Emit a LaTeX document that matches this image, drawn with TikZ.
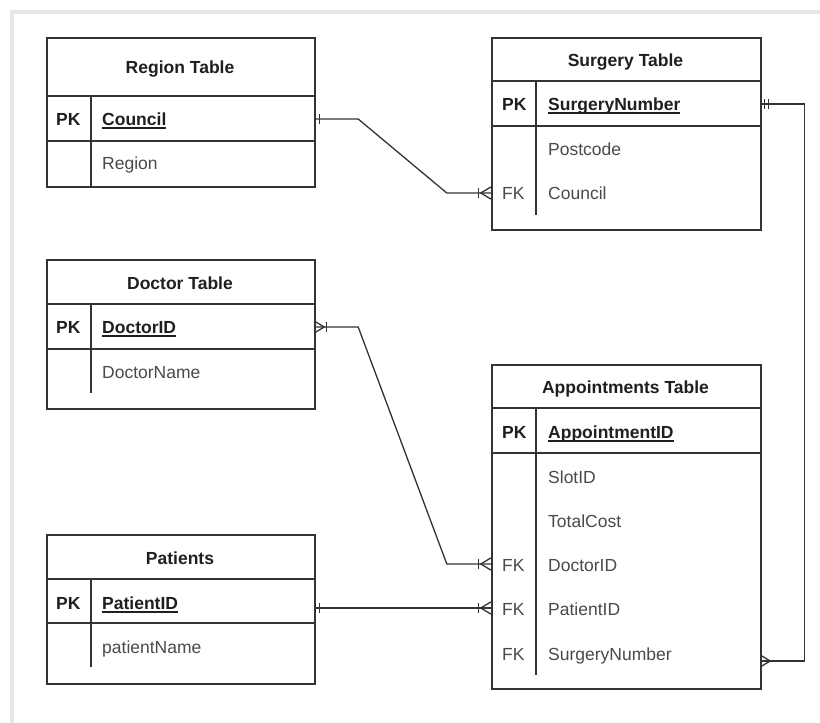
\documentclass[tikz,border=0pt]{standalone}
\usepackage{fontspec}
\setmainfont{Liberation Sans}
\usetikzlibrary{calc}
\definecolor{ln}{HTML}{333333}
\definecolor{tx}{HTML}{1F1F1F}
\definecolor{fld}{HTML}{4A4A4A}
\definecolor{band}{HTML}{E6E6E6}
\newsavebox\ulbox
\newcommand{\pkname}[1]{\sbox\ulbox{\bfseries #1}\rlap{\color{tx}\rule[-3.5pt]{\wd\ulbox}{1.4pt}}\usebox\ulbox}
\tikzset{
  tbl/.style={draw=ln, line width=1.6pt, inner sep=0pt, anchor=north west},
  sep/.style={draw=ln, line width=1.6pt},
  dv/.style={draw=ln, line width=1.6pt},
  conn/.style={draw=ln, line width=1.3pt},
  txt/.style={inner sep=0pt, text height=12.6pt, text depth=0pt, font=\fontsize{17.5}{20}\selectfont},
  title/.style={txt, text=tx, font=\fontsize{17.5}{20}\selectfont\bfseries},
  pk/.style={txt, text=tx, anchor=west, font=\fontsize{17.5}{20}\selectfont\bfseries},
  fk/.style={txt, text=fld, anchor=west},
  pkf/.style={txt, text=tx, anchor=west},
  field/.style={txt, text=fld, anchor=west},
  rowL/.style={inner sep=0pt, minimum width=268pt, minimum height=44pt},
  rowR/.style={inner sep=0pt, minimum width=269pt, minimum height=44pt},
  pics/onebar/.style={code={\draw[conn] (5,-5) -- (5,5);}},
  pics/twobar/.style={code={\draw[conn] (4,-5) -- (4,5); \draw[conn] (8,-5) -- (8,5);}},
  pics/manyone/.style={code={\draw[conn] (0,-6) -- (-10,0) -- (0,6); \draw[conn] (-12,-5) -- (-12,5);}},
  pics/many/.style={code={\draw[conn] (0,-6) -- (-10,0) -- (0,6);}},
}
\begin{document}
\begin{tikzpicture}[x=1pt,y=-1pt]
\useasboundingbox (0,0) rectangle (820,723);
\fill[white] (0,0) rectangle (820,723);
\fill[band] (10,10) rectangle (820,14);
\fill[band] (10,10) rectangle (14,723);

% ---------- Region Table ----------
\node[tbl, minimum width=268pt, minimum height=149pt] (region) at (46,37) {};
\node[title] (regiont) at (180,67) {Region Table};
\draw[sep] (46,96) -- (314,96);
\draw[sep] (46,141) -- (314,141);
\draw[dv] (91,96) -- (91,186);
\node[pk] (regionpk) at (56,119) {PK};
\node[pkf] (regionc) at (102,119) {\pkname{Council}};
\node[field] (regionr) at (102,163) {Region};
\node[rowL] (rgcouncil) at (180,119) {};

% ---------- Surgery Table ----------
\node[tbl, minimum width=269pt, minimum height=192pt] (surgery) at (491,37) {};
\node[title] (surgeryt) at (625.5,60) {Surgery Table};
\draw[sep] (491,81) -- (760,81);
\draw[sep] (491,126) -- (760,126);
\draw[dv] (536,81) -- (536,215);
\node[pk] (surgerypk) at (502,104) {PK};
\node[pkf] (surgerysn) at (548,104) {\pkname{SurgeryNumber}};
\node[field] (surgerypc) at (548,149) {Postcode};
\node[fk] (surgeryfk) at (502,193) {FK};
\node[field] (surgeryc) at (548,193) {Council};
\node[rowR] (sgnumber) at (625.5,104) {};
\node[rowR] (sgcouncil) at (625.5,193) {};

% ---------- Doctor Table ----------
\node[tbl, minimum width=268pt, minimum height=149pt] (doctor) at (46,259) {};
\node[title] (doctort) at (180,283) {Doctor Table};
\draw[sep] (46,304) -- (314,304);
\draw[sep] (46,349) -- (314,349);
\draw[dv] (91,304) -- (91,393);
\node[pk] (doctorpk) at (56,327) {PK};
\node[pkf] (doctorid) at (102,327) {\pkname{DoctorID}};
\node[field] (doctorn) at (102,372) {DoctorName};
\node[rowL] (drid) at (180,327) {};

% ---------- Appointments Table ----------
\node[tbl, minimum width=269pt, minimum height=324pt] (appt) at (491,364) {};
\node[title] (apptt) at (625.5,387) {Appointments Table};
\draw[sep] (491,408) -- (760,408);
\draw[sep] (491,453) -- (760,453);
\draw[dv] (536,408) -- (536,675);
\node[pk] (apptpk) at (502,432) {PK};
\node[pkf] (apptid) at (548,432) {\pkname{AppointmentID}};
\node[field] (apptslot) at (548,477) {SlotID};
\node[field] (apptcost) at (548,521) {TotalCost};
\node[fk] (apptfk1) at (502,565) {FK};
\node[field] (apptdoc) at (548,565) {DoctorID};
\node[fk] (apptfk2) at (502,609) {FK};
\node[field] (apptpat) at (548,609) {PatientID};
\node[fk] (apptfk3) at (502,654) {FK};
\node[field] (apptsn) at (548,654) {SurgeryNumber};
\node[rowR] (apdoc) at (625.5,564) {};
\node[rowR] (appat) at (625.5,608) {};
\node[rowR] (apsn) at (625.5,661) {};

% ---------- Patients ----------
\node[tbl, minimum width=268pt, minimum height=149pt] (patients) at (46,534) {};
\node[title] (patientst) at (180,558) {Patients};
\draw[sep] (46,579) -- (314,579);
\draw[sep] (46,623) -- (314,623);
\draw[dv] (91,579) -- (91,667);
\node[pk] (patientspk) at (56,603) {PK};
\node[pkf] (patientsid) at (102,603) {\pkname{PatientID}};
\node[field] (patientsn) at (102,647) {patientName};
\node[rowL] (ptid) at (180,608) {};

% ---------- Connectors ----------
\draw[conn] (rgcouncil.east) -- ++(44,0) -- ($(sgcouncil.west)+(-44,0)$) -- (sgcouncil.west);
\pic at (rgcouncil.east) {onebar};
\pic at (sgcouncil.west) {manyone};

\draw[conn] (sgnumber.east) -- ++(44,0) |- (apsn.east);
\pic at (sgnumber.east) {twobar};
\pic[xscale=-1] at (apsn.east) {many};

\draw[conn] (drid.east) -- ++(44,0) -- ($(apdoc.west)+(-44,0)$) -- (apdoc.west);
\pic[xscale=-1] at (drid.east) {manyone};
\pic at (apdoc.west) {manyone};

\draw[conn] (ptid.east) -- (appat.west);
\pic at (ptid.east) {onebar};
\pic at (appat.west) {manyone};
\end{tikzpicture}
\end{document}
